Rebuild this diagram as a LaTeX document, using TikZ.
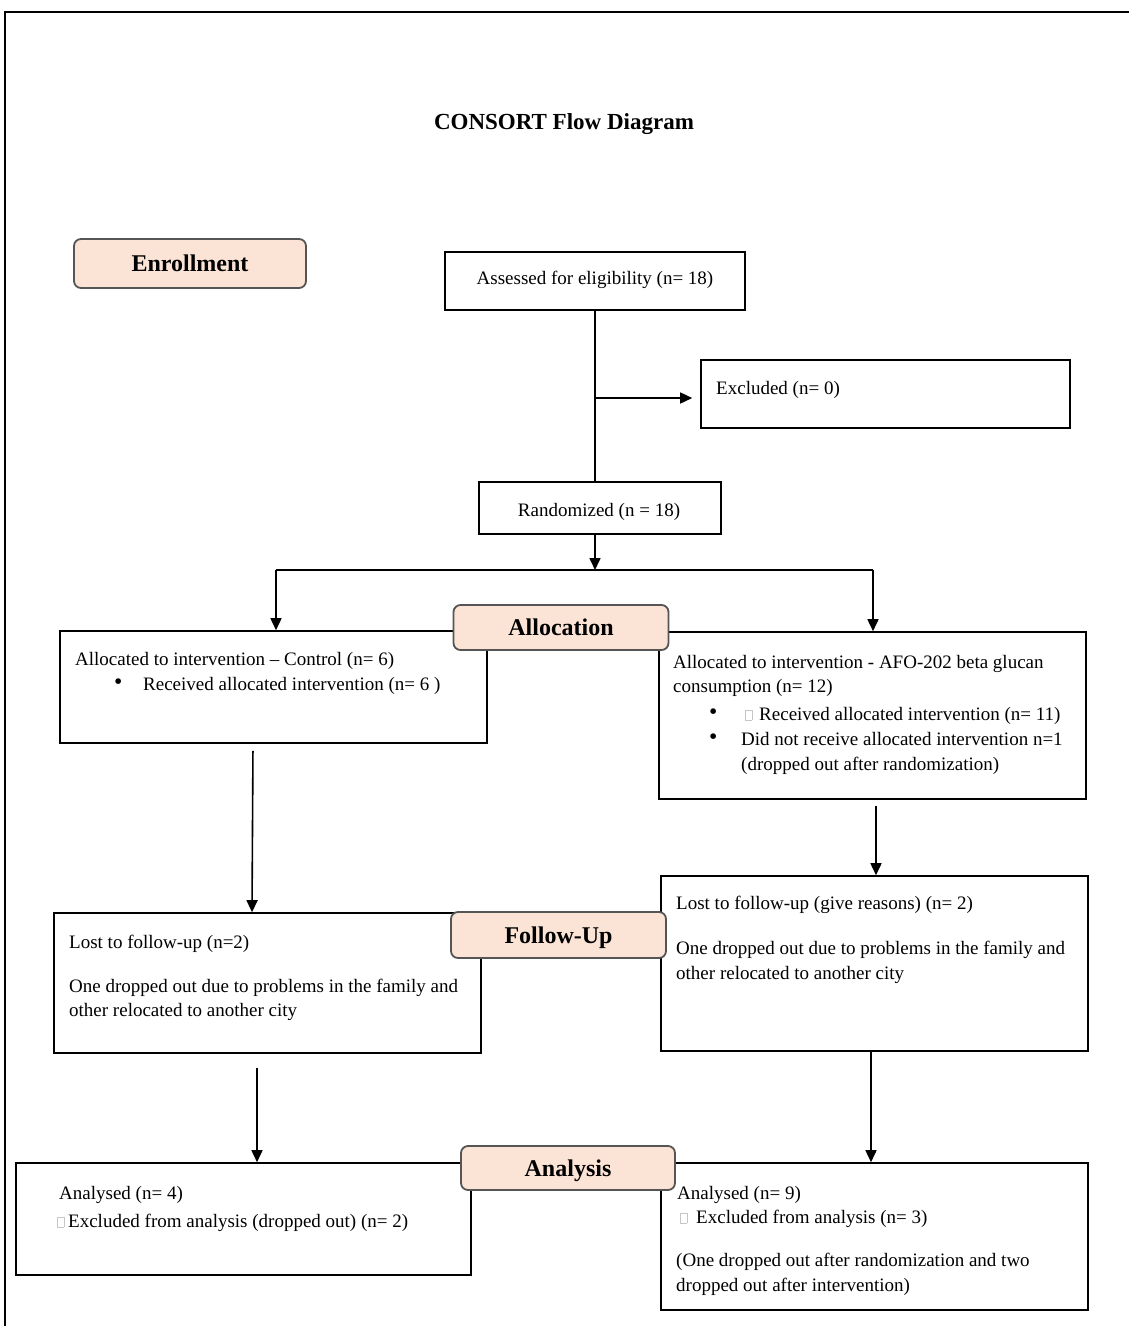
\documentclass[tikz,border=0pt]{standalone}
\usepackage{fontspec}
\setmainfont{Liberation Serif}
\usetikzlibrary{arrows.meta,calc}
\definecolor{peach}{RGB}{251,227,214}
\definecolor{peachline}{RGB}{85,85,85}
\newcommand{\tofu}{{\color{gray!45}\setlength{\fboxsep}{0pt}\setlength{\fboxrule}{0.5pt}\fbox{\rule{0pt}{10pt}\rule{6pt}{0pt}}}}
\newcommand{\blt}{\raisebox{0.5pt}{\scalebox{1.25}{\textbullet}}}
\tikzset{
  box/.style={draw=black, line width=1.6pt, rectangle, inner sep=0pt, fill=white},
  phase/.style={draw=peachline, line width=1.8pt, fill=peach, rounded corners=7pt, inner sep=0pt,
    text height=16pt, text depth=0pt, font=\fontsize{24}{28}\selectfont\bfseries},
  txt/.style={anchor=base west, inner sep=0pt, font=\fontsize{19}{25}\selectfont},
  ctxt/.style={anchor=base, inner sep=0pt, font=\fontsize{19}{25}\selectfont},
  arr/.style={line width=1.6pt, -{Triangle[length=12pt,width=11pt]}},
  ln/.style={line width=1.6pt},
}
\begin{document}
\begin{tikzpicture}[x=1pt,y=-1pt]
\useasboundingbox (0,0) rectangle (1129,1326);
% frame
\draw[line width=2pt] (5,1326) -- (5,12) -- (1129,12);
% title
\node[inner sep=0pt, anchor=base, font=\fontsize{23}{27}\selectfont\bfseries] (title) at (564,129) {CONSORT Flow Diagram};

% rectangle boxes
\node[box, minimum width=300pt, minimum height=58pt] (assess) at (595,281) {};
\node[box, minimum width=369pt, minimum height=68pt] (excl) at (885.5,394) {};
\node[box, minimum width=242pt, minimum height=52pt] (rand) at (600,508) {};
\node[box, minimum width=427pt, minimum height=112pt] (ctrl) at (273.5,687) {};
\node[box, minimum width=427pt, minimum height=167pt] (afo) at (872.5,715.5) {};
\node[box, minimum width=427pt, minimum height=140pt] (lostL) at (267.5,983) {};
\node[box, minimum width=427pt, minimum height=175pt] (lostR) at (874.5,963.5) {};
\node[box, minimum width=455pt, minimum height=112pt] (anL) at (243.5,1219) {};
\node[box, minimum width=427pt, minimum height=147pt] (anR) at (874.5,1236.5) {};

% texts
\node[ctxt] (assessT) at (595,284) {Assessed for eligibility (n= 18)};
\node[txt] (exclT) at (716,394) {Excluded (n= 0)};
\node[ctxt] (randT) at (599,516) {Randomized (n = 18)};

\node[txt] (ctrlT1) at (75,665) {Allocated to intervention -- Control (n= 6)};
\node[txt] (ctrlB1) at (114,690) {\blt};
\node[txt] (ctrlT2) at (143,690) {Received allocated intervention (n= 6 )};

\node[txt] (afoT1) at (673,668) {Allocated to intervention - AFO-202 beta glucan};
\node[txt] (afoT2) at (673,692) {consumption (n= 12)};
\node[txt] (afoB1) at (709,720) {\blt};
\node[txt] (afoQ1) at (745,720) {\tofu};
\node[txt] (afoT3) at (759,720) {Received allocated intervention (n= 11)};
\node[txt] (afoB2) at (709,745) {\blt};
\node[txt] (afoT4) at (741,745) {Did not receive allocated intervention n=1};
\node[txt] (afoT5) at (741,770) {(dropped out after randomization)};

\node[txt] (lostLT1) at (69,948) {Lost to follow-up (n=2)};
\node[txt] (lostLT2) at (69,992) {One dropped out due to problems in the family and};
\node[txt] (lostLT3) at (69,1016) {other relocated to another city};

\node[txt] (lostRT1) at (676,909) {Lost to follow-up (give reasons) (n= 2)};
\node[txt] (lostRT2) at (676,954) {One dropped out due to problems in the family and};
\node[txt] (lostRT3) at (676,979) {other relocated to another city};

\node[txt] (anLT1) at (59,1199) {Analysed (n= 4)};
\node[txt] (anLQ) at (57,1227) {\tofu};
\node[txt] (anLT2) at (68,1227) {Excluded from analysis (dropped out) (n= 2)};

\node[txt] (anRT1) at (677,1199) {Analysed (n= 9)};
\node[txt] (anRQ) at (680,1223) {\tofu};
\node[txt] (anRT2) at (696,1223) {Excluded from analysis (n= 3)};
\node[txt] (anRT3) at (676,1266) {(One dropped out after randomization and two};
\node[txt] (anRT4) at (676,1291) {dropped out after intervention)};

% phase labels
\node[phase, minimum width=232pt, minimum height=49pt] (enroll) at (190,263.5) {Enrollment};
\node[phase, minimum width=215pt, minimum height=45pt] (alloc) at (561,627.5) {Allocation};
\node[phase, minimum width=215pt, minimum height=46pt] (follow) at (558.5,935) {Follow-Up};
\node[phase, minimum width=214pt, minimum height=44pt] (analysis) at (568,1168) {Analysis};

% connectors
\coordinate (exclsplit) at (595,398);
\coordinate (randsplit) at (595,570);
\coordinate (splitL) at (276,570);
\coordinate (splitR) at (873,570);
\draw[ln] (assess.south) -- (assess.south |- rand.north);
\draw[arr, shorten >=8pt] (exclsplit) -- (exclsplit -| excl.west);
\draw[arr] (rand.south -| randsplit) -- (randsplit);
\draw[ln] (splitL) -- (splitR);
\draw[arr] (splitL) -- (splitL |- ctrl.north);
\draw[arr] (splitR) -- (splitR |- afo.north);
\draw[arr, shorten <=7pt] ([xshift=-20.5pt]ctrl.south) -- ([xshift=-15.5pt]lostL.north);
\draw[arr, shorten <=6pt] ([xshift=3.5pt]afo.south) -- ([xshift=1.5pt]lostR.north);
\draw[arr, shorten <=14pt] ([xshift=-10.5pt]lostL.south) -- ([xshift=13.5pt]anL.north);
\draw[arr] ([xshift=-3.5pt]lostR.south) -- ([xshift=-3.5pt]anR.north);
\end{tikzpicture}
\end{document}
